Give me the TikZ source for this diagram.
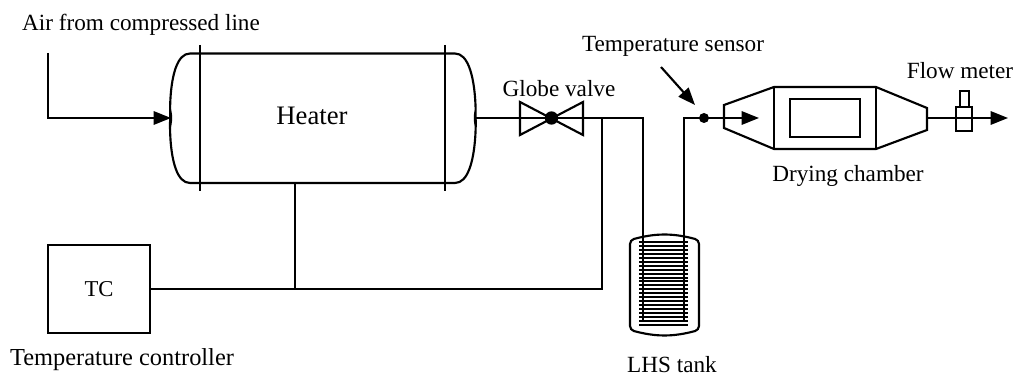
\documentclass[tikz,border=0pt]{standalone}
\usepackage{fontspec}
\setmainfont{Liberation Serif}
\usepackage{tikz}
\usetikzlibrary{arrows.meta}
\tikzset{
  pipe/.style={line width=1.6pt},
  flow/.style={line width=1.6pt, -{Triangle[length=13pt,width=10pt]}},
  label/.style={font=\fontsize{17.4}{17.4}\selectfont, inner sep=0pt},
  dot/.style={circle, fill=black, inner sep=0pt, minimum size=#1}
}
\begin{document}
\begin{tikzpicture}[x=0.75pt,y=-0.75pt]
\useasboundingbox (0,0) rectangle (1018,377);

% Coordinates
\coordinate (inletstart) at (48,53);
\coordinate (inletbend) at (48,118);
\coordinate (heaterin) at (171,118);
\coordinate (heaterout) at (475,118);
\coordinate (branch) at (602,118);
\coordinate (pipeleft) at (643,118);
\coordinate (pipeleftend) at (643,320);
\coordinate (piperight) at (684,118);
\coordinate (piperightend) at (684,320);
\coordinate (chamberin) at (759,118);
\coordinate (chamberout) at (927,118);
\coordinate (outlet) at (1008,118);
\coordinate (heaterbase) at (295,183);
\coordinate (wirejoin) at (295,289);
\coordinate (wirebranch) at (602,289);
\coordinate (sensortail) at (661,67);
\coordinate (sensorhead) at (695,105);

% Heater
\draw [pipe] (190,53.5) -- (455,53.5) to [out=0,in=-90] (heaterout) to [out=90,in=0] (455,183) -- (190,183) to [out=180,in=90] (heaterin) to [out=-90,in=180] (190,53.5);
\draw [pipe] (200,45) -- (200,191);
\draw [pipe] (445,45) -- (445,191);
\node (heater) [label, font=\fontsize{20}{20}\selectfont] at (312,116) {Heater};

% Temperature controller
\node (tc) [draw, pipe, minimum width=76.5pt, minimum height=66pt, inner sep=0pt, font=\fontsize{17}{17}\selectfont] at (99,289) {TC};

% Pipes
\draw [flow] (inletstart) -- (inletbend) -- (heaterin);
\draw [pipe] (heaterout) -- (pipeleft) -- (pipeleftend);
\draw [pipe] (branch) -- (wirebranch) -- (tc.east);
\draw [pipe] (heaterbase) -- (wirejoin);
\draw [pipe] (piperightend) -- (piperight) -- (724,118);
\draw [flow] (724,118) -- (chamberin);
\draw [flow] (chamberout) -- (outlet);

% Valve
\draw [pipe] (520,102) -- (583,135) -- (583,102) -- (520,135) -- cycle;
\node (valvedot) [dot=10pt] at (551.5,118) {};

% Sensor
\node (sensordot) [dot=7.5pt] at (704,118) {};
\draw [flow] (sensortail) -- (sensorhead);

% Tank
\draw [pipe, rounded corners=3pt] (630,240) to [bend left=15] (699,240) -- (699,330) to [bend left=15] (630,330) -- cycle;
\foreach \i in {0,...,21}
  \draw [line width=1.5pt] (639,242+3.95*\i) -- (688,242+3.95*\i);

% Drying chamber
\draw [pipe] (724,105) -- (774,87) -- (876,87) -- (927,108) -- (927,130) -- (876,149) -- (774,149) -- (724,128) -- cycle;
\draw [pipe] (774,87) -- (774,149);
\draw [pipe] (876,87) -- (876,149);
\draw [pipe] (790,99) rectangle (860,137);

% Flow meter
\draw [pipe] (956,107) rectangle (972,131);
\draw [pipe] (960,91) rectangle (969,107);

% Labels
\node (airlabel) [label] at (141,24.5) {Air from compressed line};
\node (globelabel) [label] at (559,89) {Globe valve};
\node (sensorlabel) [label] at (673,46.5) {Temperature sensor};
\node (flowlabel) [label] at (960,71) {Flow meter};
\node (dryinglabel) [label] at (848,175.5) {Drying chamber};
\node (tclabel) [label, font=\fontsize{18.3}{18.3}\selectfont] at (122,360) {Temperature controller};
\node (tanklabel) [label] at (672,365) {LHS tank};
\end{tikzpicture}
\end{document}
